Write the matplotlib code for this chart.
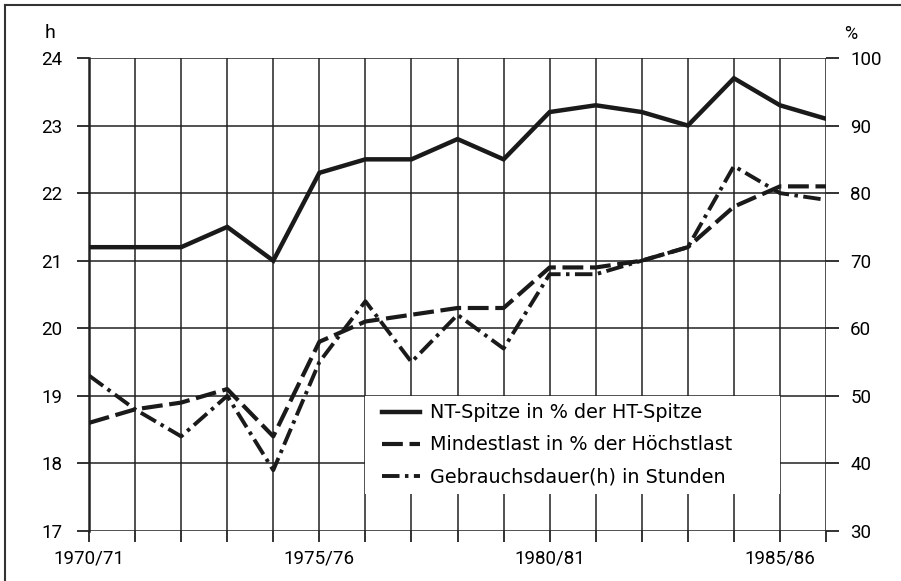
import numpy as np
import matplotlib
matplotlib.use("Agg")
import matplotlib.pyplot as plt
from matplotlib.patches import Rectangle
from matplotlib.lines import Line2D

plt.rcParams['font.family'] = ['Roboto', 'DejaVu Sans']

# x positions: economic years 1970/71 ... 1986/87
years = list(range(1970, 1987))
tick_labels = {1970: '1970/71', 1975: '1975/76', 1980: '1980/81', 1985: '1985/86'}

# NT-Spitze in % der HT-Spitze (right axis, %)
nt_spitze = [72, 72, 72, 75, 70, 83, 85, 85, 88, 85, 92, 93, 92, 90, 97, 93, 91]
# Mindestlast in % der Hoechstlast (right axis, %)
mindestlast = [46, 48, 49, 51, 44, 58, 61, 62, 63, 63, 69, 69, 70, 72, 78, 81, 81]
# Gebrauchsdauer in Stunden (left axis, h)
gebrauchsdauer = [19.3, 18.8, 18.4, 19.0, 17.9, 19.5, 20.4, 19.5, 20.2, 19.7,
                  20.8, 20.8, 21.0, 21.2, 22.4, 22.0, 21.9]

h_ticks = [17, 18, 19, 20, 21, 22, 23, 24]
pct_ticks = [30, 40, 50, 60, 70, 80, 90, 100]

fig = plt.figure(figsize=(9.01, 5.81), dpi=100)
ax = fig.add_axes([0.0988, 0.0861, 0.818, 0.8141])
ax2 = ax.twinx()

ax.set_xlim(years[0], years[-1])
ax.set_ylim(17, 24)
ax2.set_ylim(30, 100)

ax.set_xticks(years)
ax.set_xticklabels([tick_labels.get(y, '') for y in years])
ax.set_yticks(h_ticks)
ax2.set_yticks(pct_ticks)

for a in (ax, ax2):
    for s in a.spines.values():
        s.set_visible(False)

g = '#222222'
ax.grid(True, color=g, lw=1.1, zorder=0)
ax.tick_params(axis='x', length=8, width=1.3, color=g, labelsize=13.5, pad=5)
ax.tick_params(axis='y', length=8.6, width=1.3, color=g, labelsize=13.5, pad=10.5)
ax2.tick_params(axis='y', length=9.4, width=1.3, color=g, labelsize=13.5, pad=8)
ax.spines['left'].set_visible(True)
ax.spines['left'].set_linewidth(1.8)
ax.spines['left'].set_color(g)
ax.set_axisbelow(True)

# white area under the legend
ax.add_patch(Rectangle((1976, 17.54), 9, 1.46, facecolor='white',
                       edgecolor='none', zorder=1))

k = '#1a1a1a'
ax2.plot(years, nt_spitze, color=k, lw=3.2, solid_joinstyle='miter', zorder=3)
ax2.plot(years, mindestlast, color=k, lw=3.0, dashes=(5, 1.6), zorder=3)
ax.plot(years, gebrauchsdauer, color=k, lw=2.8, dashes=(4.5, 1.4, 0.9, 1.4), zorder=3)

handles = [Line2D([], [], color=k, lw=3.2),
           Line2D([], [], color=k, lw=3.0, dashes=(5, 1.6)),
           Line2D([], [], color=k, lw=2.8, dashes=(4.5, 1.4, 0.9, 1.4))]
labels = ['NT-Spitze in % der HT-Spitze',
          'Mindestlast in % der Höchstlast',
          'Gebrauchsdauer(h) in Stunden']
ax2.legend(handles, labels, loc='upper left', bbox_to_anchor=(0.387, 0.286),
           frameon=False, prop={'family': 'DejaVu Sans', 'size': 13.8},
           handlelength=2.0, handletextpad=0.5,
           labelspacing=0.68, borderaxespad=0)

fig.text(0.05, 0.943, 'h', fontsize=14, ha='left', va='center')
fig.text(0.937, 0.941, '%', fontsize=13, ha='left', va='center')

# outer frame (top and left only)
fig.add_artist(Line2D([0.006, 1.0], [0.991, 0.991], color='#333333', lw=1.5))
fig.add_artist(Line2D([0.006, 0.006], [0.0, 0.991], color='#333333', lw=1.5))

fig.savefig('out.png', dpi=100)
